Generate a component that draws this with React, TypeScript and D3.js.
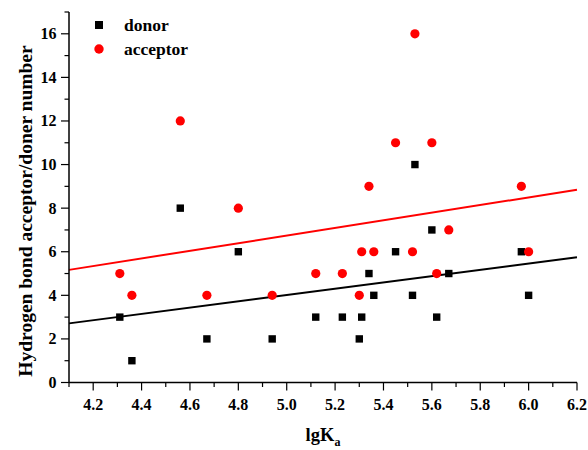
import React from "react";
import * as d3 from "d3";

const lgKa = [4.31, 4.36, 4.56, 4.67, 4.80, 4.94, 5.12, 5.23, 5.30, 5.31, 5.34, 5.36, 5.45, 5.52, 5.53, 5.60, 5.62, 5.67, 5.97, 6.00];
const donor = [3, 1, 8, 2, 6, 2, 3, 3, 2, 3, 5, 4, 6, 4, 10, 7, 3, 5, 6, 4];
const acceptor = [5, 4, 12, 4, 8, 4, 5, 5, 4, 6, 9, 6, 11, 6, 16, 11, 5, 7, 9, 6];
const xTicks = [4.2, 4.4, 4.6, 4.8, 5.0, 5.2, 5.4, 5.6, 5.8, 6.0, 6.2];
const yTicks = [0, 2, 4, 6, 8, 10, 12, 14, 16];
const seriesNames = ["donor", "acceptor"];

const W = 588, H = 450;
const left = 69, right = 577, top = 12, bottom = 382.5;
const FONT = "Liberation Serif, Times New Roman, serif";

function fit(xs: number[], ys: number[]) {
  const mx = d3.mean(xs)!, my = d3.mean(ys)!;
  let sxy = 0, sxx = 0;
  xs.forEach((x, i) => { sxy += (x - mx) * (ys[i] - my); sxx += (x - mx) * (x - mx); });
  const b = sxy / sxx;
  return { a: my - b * mx, b };
}

export default function App() {
  const x = d3.scaleLinear().domain([4.1, 6.2]).range([left, right]);
  const y = d3.scaleLinear().domain([0, 17]).range([bottom, top]);
  const xMinor = d3.range(41, 63, 1).map(v => v / 10);
  const yMinor = d3.range(0, 18, 1);
  const fd = fit(lgKa, donor);
  const fa = fit(lgKa, acceptor);
  const line = (f: { a: number; b: number }) =>
    d3.line<number>().x(v => x(v)).y(v => y(f.a + f.b * v))([4.1, 6.2]) || "";

  return (
    <svg width={W} height={H} style={{ position: "absolute", left: 0, top: 0, background: "#fff" }}>
      <rect width={W} height={H} fill="#fff" />
      {/* regression lines */}
      <path d={line(fa)} stroke="#ff0000" strokeWidth={2} fill="none" />
      <path d={line(fd)} stroke="#000" strokeWidth={2} fill="none" />
      {/* points */}
      {lgKa.map((v, i) => (
        <rect key={"d" + i} x={x(v) - 3.7} y={y(donor[i]) - 3.7} width={7.4} height={7.4} fill="#000" />
      ))}
      {lgKa.map((v, i) => (
        <circle key={"a" + i} cx={x(v)} cy={y(acceptor[i])} r={4.6} fill="#ff0000" />
      ))}
      {/* axes */}
      <line x1={left} x2={left} y1={top} y2={bottom} stroke="#000" strokeWidth={1.5} />
      <line x1={left} x2={right} y1={bottom} y2={bottom} stroke="#000" strokeWidth={1.5} />
      {xMinor.map((v, i) => {
        const major = xTicks.some(t => Math.abs(t - v) < 1e-6);
        return <line key={"xm" + i} x1={x(v)} x2={x(v)} y1={bottom} y2={bottom + (major ? 8 : 4.5)} stroke="#000" strokeWidth={1.2} />;
      })}
      {yMinor.map((v, i) => {
        const major = yTicks.includes(v);
        return <line key={"ym" + i} x1={left} x2={left - (major ? 8 : 4.5)} y1={y(v)} y2={y(v)} stroke="#000" strokeWidth={1.2} />;
      })}
      {xTicks.map((v, i) => (
        <text key={"xt" + i} x={x(v)} y={410} textAnchor="middle" fontFamily={FONT} fontWeight="bold" fontSize={16}>
          {v.toFixed(1)}
        </text>
      ))}
      {yTicks.map((v, i) => (
        <text key={"yt" + i} x={56.5} y={y(v) + 5.5} textAnchor="end" fontFamily={FONT} fontWeight="bold" fontSize={16}>
          {v}
        </text>
      ))}
      {/* axis titles */}
      <text x={323} y={441} textAnchor="middle" fontFamily={FONT} fontWeight="bold" fontSize={18.5}>
        lgK<tspan fontSize={12} dy={5}>a</tspan>
      </text>
      <text transform={`translate(32,211) rotate(-90)`} textAnchor="middle" fontFamily={FONT} fontWeight="bold" fontSize={19.5}>
        Hydrogen bond acceptor/doner number
      </text>
      {/* legend */}
      <rect x={99 - 4} y={25 - 4} width={8} height={8} fill="#000" />
      <text x={124} y={30.7} fontFamily={FONT} fontWeight="bold" fontSize={17.5}>{seriesNames[0]}</text>
      <circle cx={99} cy={49} r={4.7} fill="#ff0000" />
      <text x={124} y={55} fontFamily={FONT} fontWeight="bold" fontSize={17.5}>{seriesNames[1]}</text>
    </svg>
  );
}
